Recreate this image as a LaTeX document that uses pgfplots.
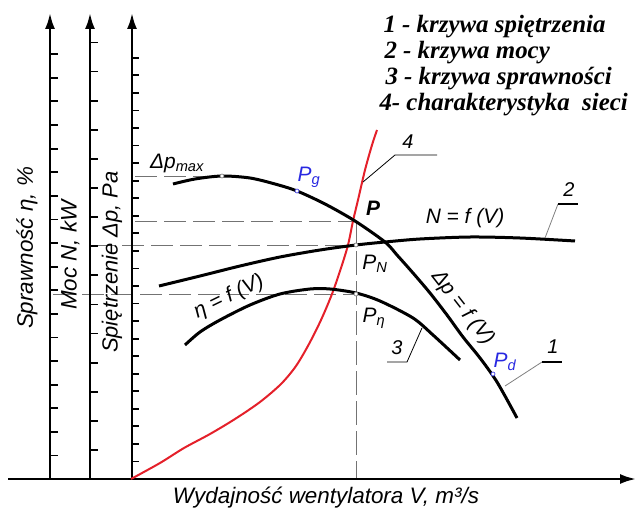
\documentclass[border=0pt]{standalone}
\usepackage{fontspec}
\setmainfont{Liberation Serif}
\newfontfamily\iso{Liberation Sans}
\usepackage{pgfplots}
\pgfplotsset{compat=1.18}
\usetikzlibrary{arrows.meta}
\definecolor{netred}{RGB}{228,32,42}
\definecolor{ptblue}{RGB}{40,40,225}
\definecolor{dashgray}{RGB}{115,115,115}

\begin{document}
\begin{tikzpicture}
\begin{axis}[
    width=636bp, height=513bp, scale only axis,
    xmin=0, xmax=636, ymin=0, ymax=513, y dir=reverse,
    axis lines=none, clip=false,
]
% guide lines
\draw[dashgray, line width=1bp, dash pattern=on 22bp off 7bp] (axis cs:135,176) -- (axis cs:222,176);
\draw[dashgray, line width=1bp, dash pattern=on 22bp off 7bp] (axis cs:135,221) -- (axis cs:355,221);
\draw[dashgray, line width=1bp, dash pattern=on 22bp off 7bp] (axis cs:93,245) -- (axis cs:356,245);
\draw[dashgray, line width=1bp, dash pattern=on 22bp off 7bp] (axis cs:53,294) -- (axis cs:356,294);
\draw[dashgray, line width=1bp, dash pattern=on 24bp off 6bp] (axis cs:356,221) -- (axis cs:356,479);

% axes
\draw[line width=2.4bp, -{Latex[length=16bp,width=10bp]}] (axis cs:8,479) -- (axis cs:636,479);
\draw[line width=2.4bp, -{Latex[length=16bp,width=10bp]}] (axis cs:50,479) -- (axis cs:50,13);
\draw[line width=2.4bp, -{Latex[length=16bp,width=10bp]}] (axis cs:90,479) -- (axis cs:90,13);
\draw[line width=2.4bp, -{Latex[length=16bp,width=10bp]}] (axis cs:132,479) -- (axis cs:132,13);
\pgfplotsinvokeforeach{1,...,18}{\draw[line width=1.8bp] (axis cs:50,{479-#1*23.6}) -- ++(8bp,0);}
\pgfplotsinvokeforeach{1,...,15}{\draw[line width=1.8bp] (axis cs:90,{479-#1*29.1}) -- ++(8bp,0);}
\pgfplotsinvokeforeach{1,...,24}{\draw[line width=1.8bp] (axis cs:132,{479-#1*17.55}) -- ++(7bp,0);}

% curve 4: network characteristic
\addplot[netred, line width=2bp, smooth] coordinates {
(131,479) (160,463) (184,448) (210,434) (235,419) (260,402) (281,384) (296,366)
(309,344) (321,320) (332,294) (341,268) (348,245) (353,221) (358,200) (365,170)
(372,145) (377,130)};
% curve 1: pressure
\addplot[black, line width=3bp, smooth] coordinates {
(173,184) (195,179) (222,176) (250,178) (275,184) (297,191) (325,204) (355,221)
(385,242) (397,255) (413,273) (430,293) (447,315) (463,337) (480,358) (497,382) (517,418)};
% curve 2: power
\addplot[black, line width=3bp, smooth] coordinates {
(159,286) (200,276) (240,266) (280,257) (320,250) (356,245) (385,242) (420,239)
(470,237) (520,238) (575,241)};
% curve 3: efficiency
\addplot[black, line width=3bp, smooth] coordinates {
(185,345) (200,332) (220,320) (250,305) (280,294) (310,289) (330,289) (356,293)
(380,301) (413,318) (433,335) (460,360)};

% points
\addplot[only marks, mark=*, mark size=2bp, mark options={fill=white, draw=dashgray, line width=0.6bp}]
  coordinates {(222,176) (356,245) (356,294)};
\addplot[only marks, mark=*, mark size=2bp, mark options={fill=white, draw=ptblue, line width=0.6bp}]
  coordinates {(297,191) (493,374)};

% leaders
\draw[line width=0.8bp] (axis cs:363,182) -- (axis cs:395,155) -- (axis cs:437,155);
\draw[line width=0.8bp, gray] (axis cs:545,238) -- (axis cs:558,204);
\draw[line width=1.2bp] (axis cs:558,204) -- (axis cs:578,204);
\draw[line width=0.8bp, gray] (axis cs:505,386) -- (axis cs:542,362);
\draw[line width=1.2bp] (axis cs:542,362) -- (axis cs:562,362);
\draw[line width=0.8bp] (axis cs:422,328) -- (axis cs:407,362) -- (axis cs:387,362);

% labels
\node[font=\iso\itshape\fontsize{20}{22}\selectfont] at (axis cs:408,142) {4};
\node[font=\iso\itshape\fontsize{20}{22}\selectfont] at (axis cs:569,190) {2};
\node[font=\iso\itshape\fontsize{20}{22}\selectfont] at (axis cs:553,347) {1};
\node[font=\iso\itshape\fontsize{20}{22}\selectfont] at (axis cs:397,348) {3};
\node[font=\iso\itshape\fontsize{21}{23}\selectfont] at (axis cs:177,163) {Δp\textsubscript{max}};
\node[font=\iso\itshape\fontsize{21}{23}\selectfont, text=ptblue] at (axis cs:309,177) {P\textsubscript{g}};
\node[font=\iso\itshape\fontsize{21}{23}\selectfont, text=ptblue] at (axis cs:505,362) {P\textsubscript{d}};
\node[font=\iso\bfseries\itshape\fontsize{21}{23}\selectfont] at (axis cs:373,208) {P};
\node[font=\iso\itshape\fontsize{21}{23}\selectfont] at (axis cs:375,264) {P\textsubscript{N}};
\node[font=\iso\itshape\fontsize{21}{23}\selectfont] at (axis cs:374,318) {P\textsubscript{η}};
\node[font=\iso\itshape\fontsize{21}{23}\selectfont] at (axis cs:465,218) {N = f (V)};
\node[font=\iso\itshape\fontsize{21}{23}\selectfont, rotate=26] at (axis cs:229,297) {η = f (V)};
\node[font=\iso\itshape\fontsize{21}{23}\selectfont, rotate=-52] at (axis cs:463,308) {Δp = f (V)};

% axis titles
\node[font=\iso\itshape\fontsize{22.5}{24}\selectfont, rotate=90] at (axis cs:27,248) {Sprawność η, \%};
\node[font=\iso\itshape\fontsize{22.5}{24}\selectfont, rotate=90] at (axis cs:70,255) {Moc N, kW};
\node[font=\iso\itshape\fontsize{22}{24}\selectfont, rotate=90] at (axis cs:112,262) {Spiętrzenie Δp, Pa};
\node[font=\iso\itshape\fontsize{22.5}{24}\selectfont] at (axis cs:326,498) {Wydajność wentylatora V, m³/s};

% key
\node[anchor=west, font=\bfseries\itshape\fontsize{25}{27}\selectfont] at (axis cs:380,27) {1 - krzywa spiętrzenia};
\node[anchor=west, font=\bfseries\itshape\fontsize{25}{27}\selectfont] at (axis cs:381,53) {2 - krzywa mocy};
\node[anchor=west, font=\bfseries\itshape\fontsize{25}{27}\selectfont] at (axis cs:382,79) {3 - krzywa sprawności};
\node[anchor=west, font=\bfseries\itshape\fontsize{25}{27}\selectfont] at (axis cs:376,105) {4- charakterystyka~~sieci};
\end{axis}
\pgfresetboundingbox
\useasboundingbox (current axis.south west) rectangle (current axis.north east);
\end{tikzpicture}
\end{document}
